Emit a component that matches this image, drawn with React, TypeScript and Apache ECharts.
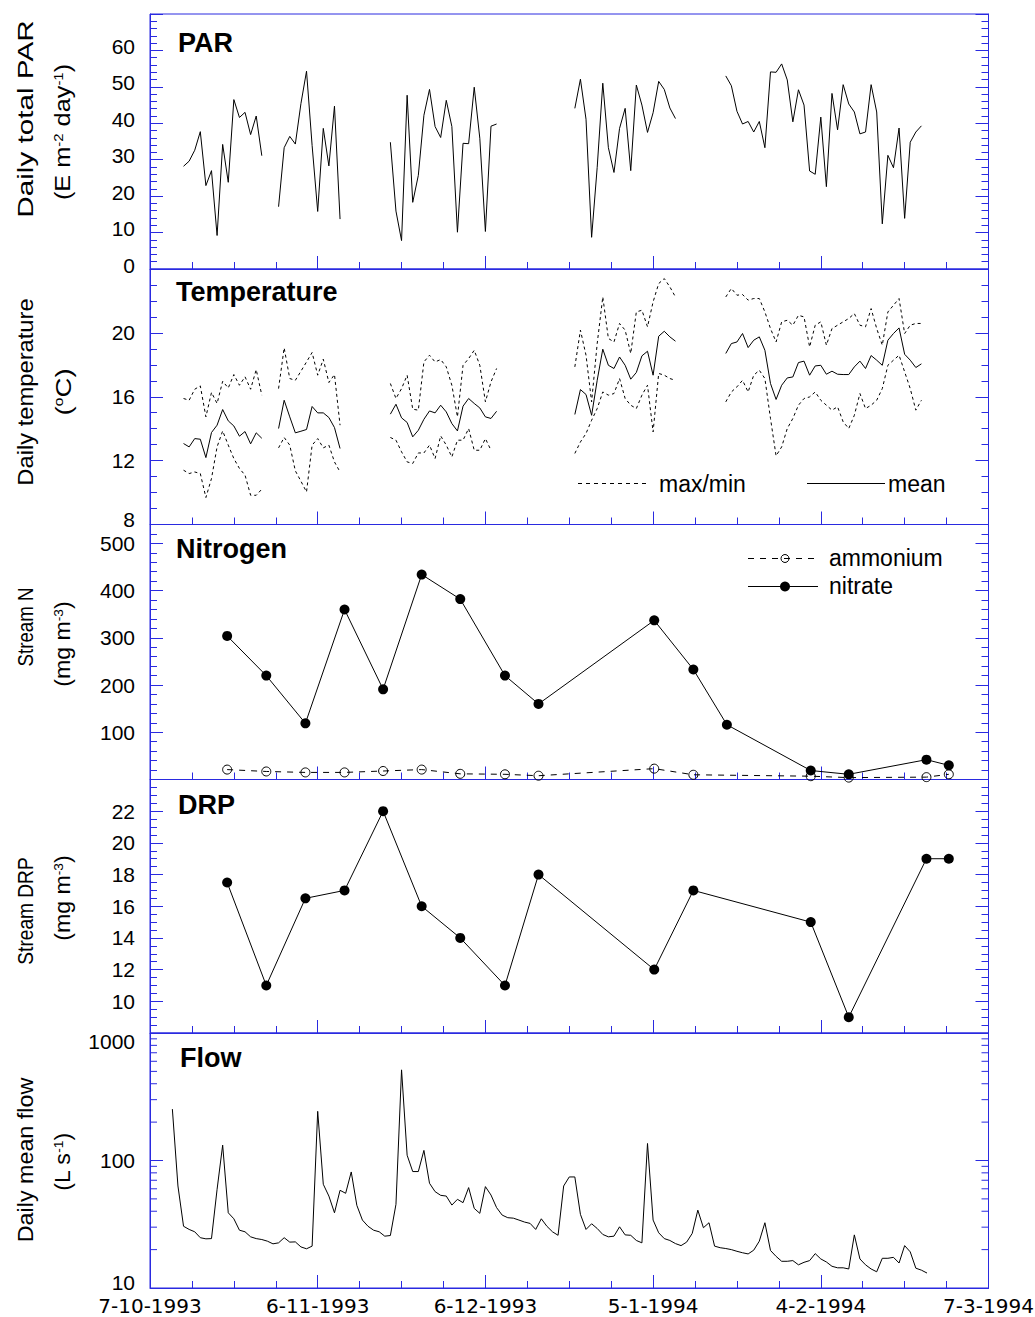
import React, { useEffect, useRef } from "react";
import * as echarts from "echarts";

const BLUE = "#2a2ae0";
const FONT = "'Liberation Sans', Arial, Helvetica, sans-serif";
const XFONT = "'DejaVu Sans', 'Liberation Sans', sans-serif";

// x axis: days since 7-10-1993
const xTickDays = [0, 30, 60, 90, 120, 150];
const xTickLabels = ["7-10-1993", "6-11-1993", "6-12-1993", "5-1-1994", "4-2-1994", "7-3-1994"];

// PAR (E m-2 day-1), daily segments
const parSeg1Start = 6;
const parSeg1 = [28.2, 29.6, 32.6, 37.7, 22.9, 27.0, 9.2, 34.2, 23.8, 46.5, 41.6, 43.0, 36.9, 42.0, 31.1];
const parSeg2Start = 23;
const parSeg2 = [17.1, 33.3, 36.4, 34.3, 45.4, 54.3, 33.9, 15.8, 38.6, 28.3, 44.7, 13.7];
const parSeg3Start = 43;
const parSeg3 = [34.8, 15.9, 7.8, 47.7, 18.3, 25.7, 42.2, 49.3, 39.1, 36.1, 46.3, 39.1, 10.1, 34.5, 34.4, 49.9, 35.9, 10.3, 39.2, 39.8];
const parSeg4Start = 76;
const parSeg4 = [44.1, 52.1, 41.1, 8.7, 27.9, 51.0, 33.3, 26.5, 38.6, 44.1, 27.0, 50.5, 45.0, 37.5, 42.9, 51.5, 49.3, 44.2, 41.3];
const parSeg5Start = 103;
const parSeg5 = [53.0, 50.3, 43.3, 39.8, 40.5, 37.6, 40.5, 33.3, 54.1, 54.0, 56.3, 51.9, 40.4, 49.2, 45.0, 26.9, 26.0, 41.7, 22.6, 48.2, 38.2, 50.6, 45.3, 43.1, 37.1, 37.6, 50.6, 43.1, 12.4, 31.2, 27.8, 38.7, 13.9, 34.8, 37.6, 39.3];

// Temperature (oC): mean / max / min per segment
const tMean1 = [13.07, 12.86, 13.38, 13.34, 12.19, 13.76, 14.22, 15.2, 14.49, 14.17, 13.53, 13.82, 13.05, 13.74, 13.4];
const tMax1 = [15.89, 15.78, 16.47, 16.68, 14.74, 16.27, 15.58, 16.97, 16.55, 17.39, 16.72, 17.25, 16.47, 17.7, 16.1];
const tMin1 = [11.4, 11.19, 11.29, 11.19, 9.69, 10.88, 12.86, 13.86, 12.97, 12.13, 11.51, 11.09, 9.83, 9.83, 10.21];
const tMean2 = [14.01, 15.78, 14.74, 13.74, 13.84, 13.95, 15.39, 14.99, 14.99, 14.7, 14.07, 12.76];
const tMax2 = [16.51, 19.06, 17.14, 17.03, 17.6, 18.18, 18.77, 17.35, 18.35, 16.89, 17.39, 14.22];
const tMin2 = [12.8, 13.45, 12.97, 11.36, 10.71, 10.04, 12.97, 13.38, 12.8, 12.97, 11.92, 11.29];
const tMean3 = [14.91, 15.53, 14.68, 14.39, 13.49, 13.9, 14.59, 15.11, 14.99, 15.47, 15.05, 14.32, 13.86, 15.41, 15.89, 15.58, 15.3, 14.74, 14.64, 15.09];
const tMax3 = [16.83, 15.89, 16.51, 17.35, 15.22, 15.16, 18.18, 18.6, 18.18, 18.33, 17.87, 16.72, 14.74, 17.97, 18.39, 18.91, 17.97, 15.68, 16.93, 17.77];
const tMin3 = [13.45, 13.28, 12.55, 11.92, 11.82, 12.48, 12.48, 12.97, 12.13, 13.55, 12.97, 12.23, 13.28, 13.28, 14.01, 12.65, 12.65, 13.38, 12.65];
const tMean4 = [14.89, 16.45, 16.14, 14.84, 17.03, 18.98, 17.97, 17.77, 18.49, 17.97, 17.1, 17.52, 18.56, 18.85, 17.35, 19.79, 20.1, 19.75, 19.48];
const tMax4 = [17.87, 20.17, 18.6, 15.68, 19.33, 22.25, 19.65, 19.43, 20.59, 20.17, 18.71, 21.31, 21.42, 20.38, 21.94, 23.09, 23.4, 22.88, 22.25];
const tMin4 = [12.45, 13.17, 13.7, 14.53, 15.26, 16.3, 16.1, 16.2, 17.14, 15.89, 15.47, 15.26, 16.1, 16.72, 13.8, 17.46, 17.35, 17.14, 17.03];
const tMean5 = [18.71, 19.33, 19.43, 19.96, 19.08, 19.54, 19.75, 18.91, 16.83, 15.83, 16.72, 17.18, 17.24, 18.14, 18.23, 17.35, 17.93, 17.97, 17.41, 17.6, 17.41, 17.39, 17.39, 17.87, 18.23, 17.77, 18.58, 18.29, 17.97, 19.54, 19.96, 20.31, 18.66, 18.29, 17.83, 18.06];
const tMax5 = [22.25, 22.78, 22.36, 22.4, 22.05, 22.15, 22.15, 21.31, 20.27, 19.43, 20.69, 20.79, 20.48, 21.1, 21.0, 19.12, 20.48, 20.69, 19.23, 20.27, 20.48, 20.69, 20.9, 21.21, 20.48, 20.38, 21.52, 20.27, 19.23, 21.31, 21.73, 22.15, 19.96, 20.48, 20.59, 20.59];
const tMin5 = [15.68, 16.3, 16.62, 17.03, 16.3, 17.35, 17.66, 17.14, 14.64, 12.3, 12.86, 14.01, 14.64, 15.47, 15.89, 15.99, 16.3, 15.78, 15.47, 15.16, 15.37, 14.43, 14.01, 14.84, 16.2, 15.26, 15.47, 15.78, 16.51, 17.97, 18.29, 18.6, 17.56, 16.51, 15.16, 15.78];

// Nitrogen (mg m-3)
const nitrateDays = [13.8, 20.8, 27.8, 34.8, 41.7, 48.6, 55.5, 63.5, 69.5, 90.2, 97.2, 103.2, 118.2, 125.0, 138.9, 142.9];
const nitrate = [304, 220, 119, 360, 191, 434, 382, 220, 160, 337, 233, 116, 19, 11, 42, 30];
const ammoniumDays = [13.8, 20.8, 27.8, 34.8, 41.7, 48.6, 55.5, 63.5, 69.5, 90.2, 97.2, 118.2, 125.0, 138.9, 142.9];
const ammonium = [21, 17, 15, 15, 18, 21, 12, 11, 8, 23, 10, 7, 4, 5, 11];

// DRP (mg m-3)
const drpDays = [13.8, 20.8, 27.8, 34.8, 41.7, 48.6, 55.5, 63.5, 69.5, 90.2, 97.2, 118.2, 125.0, 138.9, 142.9];
const drp = [17.5, 11, 16.5, 17, 22, 16, 14, 11, 18, 12, 17, 15, 9, 19, 19];

// Flow (L s-1), daily from day 4
const flowStart = 4;
const flow = [
  253, 63.1, 30.5, 28.8, 27.6, 24.8, 24.3, 24.4, 59.4, 132,
  38.9, 34.9, 28.4, 27.6, 25.2, 24.4, 24.0, 23.3, 22.2, 22.6,
  24.8, 22.9, 23.0, 21.0, 20.3, 21.3, 243, 65.1, 52.6, 38.9,
  58.4, 55.3, 81.3, 44.5, 34.1, 30.5, 28.4, 27.6, 25.5, 25.8,
  45.3, 514, 110, 81.9, 81.9, 120, 66.3, 57.0, 53.3, 52.6,
  44.7, 49.6, 46.7, 61.3, 42.1, 38.5, 62.4, 53.6, 42.7, 37.3,
  35.6, 35.3, 34.1, 32.9, 32.1, 28.8, 34.9, 30.5, 27.6, 25.9,
  63.1, 74.3, 74.3,
  37.8, 28.8, 31.9, 29.3, 26.3, 25.2, 25.5, 30.2, 26.1, 25.9,
  23.6, 22.6, 136, 34.1, 27.1, 24.4, 23.6, 22.3, 21.5, 22.9,
  26.8, 40.8, 29.7, 32.5, 21.3, 20.7, 20.4, 20.0, 19.4, 18.9,
  18.5, 19.8, 23.3, 32.5, 19.7, 17.7, 16.2, 16.2, 16.4, 15.2,
  15.9, 16.4, 18.6, 16.9, 16.0, 14.8, 14.4, 14.4, 14.1, 26.1,
  16.9, 15.2, 14.1, 13.4, 17.1, 17.1, 17.4, 15.7, 21.5, 19.2,
  14.3, 13.8, 13.1,
];
const flowMinorTicks = [20, 30, 40, 50, 60, 70, 80, 90, 200, 300, 400, 500, 600, 700, 800, 900];

const daily = (start: number, vals: number[]) => vals.map((v, i) => [start + i, v]);
const pairs = (days: number[], vals: number[]) => days.map((d, i) => [d, vals[i]]);

const GRID_LEFT = 150;
const GRID_W = 838.5;
const panels = [
  { top: 14, height: 255 },
  { top: 269, height: 255.5 },
  { top: 524.5, height: 255 },
  { top: 779.5, height: 253.5 },
  { top: 1033, height: 255 },
];

const TICK_LABEL_SIZE = 21;

export default function App() {
  const ref = useRef<HTMLDivElement>(null);
  useEffect(() => {
    if (!ref.current) return;
    const chart = echarts.init(ref.current, null, { renderer: "svg" });

    const grids = panels.map((p) => ({
      left: GRID_LEFT, width: GRID_W, top: p.top, height: p.height,
      containLabel: false, outerBoundsMode: "none",
      show: true, borderColor: BLUE, borderWidth: 1, backgroundColor: "transparent",
    }));

    const xAxes = panels.map((_, i) => ({
      gridIndex: i, type: "value", min: 0, max: 150, interval: 30,
      axisLine: { show: true, lineStyle: { color: BLUE, width: 1 } },
      axisTick: { show: true, inside: true, length: 13, lineStyle: { color: BLUE, width: 1 } },
      minorTick: { show: true, splitNumber: 4, length: 7, lineStyle: { color: BLUE, width: 1 } },
      splitLine: { show: false },
      axisLabel: {
        show: i === 4, color: "#000", fontSize: 20, lineHeight: 20, fontFamily: XFONT, margin: 8,
        showMinLabel: true, showMaxLabel: true, hideOverlap: false,
        formatter: (v: number) => {
          const k = xTickDays.indexOf(Math.round(v));
          return k >= 0 ? xTickLabels[k] : "";
        },
      },
    }));

    const ycfg: any[] = [
      { type: "value", min: 0, max: 70, interval: 10, split: 5, showMin: true, showMax: false, padding: [0, 0, 8, 0] },
      { type: "value", min: 8, max: 24, interval: 4, split: 4, showMin: true, showMax: false,
        formatter: (v: number) => (v === 8 ? "{b|8}" : String(v)) },
      { type: "value", min: 0, max: 540, interval: 100, split: 5, showMin: false, showMax: false },
      { type: "value", min: 8, max: 24, interval: 2, split: 4, showMin: false, showMax: false },
      { type: "log", min: 10, max: 1000, showMin: true, showMax: true,
        formatter: (v: number) => {
          const r = Math.round(v);
          if (r === 1000) return "{t|1000}";
          if (r === 10) return "{u|10}";
          return String(r);
        } },
    ];

    const yAxes: any[] = [];
    ycfg.forEach((c, i) => {
      ["left", "right"].forEach((pos) => {
        const ax: any = {
          gridIndex: i, type: c.type, min: c.min, max: c.max, position: pos,
          axisLine: { show: true, onZero: false, lineStyle: { color: BLUE, width: 1 } },
          axisTick: { show: true, inside: true, length: 13, lineStyle: { color: BLUE, width: 1 } },
          splitLine: { show: false },
          axisLabel: {
            show: pos === "left", color: "#000", fontSize: TICK_LABEL_SIZE, fontFamily: FONT, margin: 15,
            showMinLabel: c.showMin, showMaxLabel: c.showMax,
            padding: c.padding || 0,
            rich: {
              b: { fontSize: TICK_LABEL_SIZE, fontFamily: FONT, color: "#000", padding: [0, 0, 10, 0] },
              t: { fontSize: TICK_LABEL_SIZE, fontFamily: FONT, color: "#000", padding: [16, 0, 0, 0] },
              u: { fontSize: TICK_LABEL_SIZE, lineHeight: 16, fontFamily: FONT, color: "#000", padding: [0, 0, 12, 0] },
            },
          },
        };
        if (c.formatter) ax.axisLabel.formatter = c.formatter;
        if (c.type === "log") {
          ax.logBase = 10;
          ax.minorTick = { show: false };
        } else {
          ax.interval = c.interval;
          ax.minorTick = { show: true, splitNumber: c.split, length: 7, lineStyle: { color: BLUE, width: 1 } };
        }
        yAxes.push(ax);
      });
    });

    const series: any[] = [];
    const plain = (xi: number, data: any[], dashed?: number[]) => ({
      type: "line", xAxisIndex: xi, yAxisIndex: xi * 2, data, symbol: "none", showSymbol: false,
      lineStyle: { color: "#000", width: 1, type: dashed ? dashed : "solid" },
      silent: true, z: 3,
    });

    [[parSeg1Start, parSeg1], [parSeg2Start, parSeg2], [parSeg3Start, parSeg3], [parSeg4Start, parSeg4], [parSeg5Start, parSeg5]]
      .forEach(([s, v]: any) => series.push(plain(0, daily(s, v))));

    const tSegs: any[] = [
      [parSeg1Start, tMean1, tMax1, tMin1],
      [parSeg2Start, tMean2, tMax2, tMin2],
      [parSeg3Start, tMean3, tMax3, tMin3],
      [parSeg4Start, tMean4, tMax4, tMin4],
      [parSeg5Start, tMean5, tMax5, tMin5],
    ];
    tSegs.forEach(([s, mean, mx, mn]) => {
      series.push(plain(1, daily(s, mean)));
      series.push(plain(1, daily(s, mx), [3, 3]));
      series.push(plain(1, daily(s, mn), [3, 3]));
    });

    series.push({
      type: "line", name: "ammonium", xAxisIndex: 2, yAxisIndex: 4, data: pairs(ammoniumDays, ammonium),
      symbol: "circle", symbolSize: 9, showSymbol: true,
      lineStyle: { color: "#000", width: 1, type: [6, 6] },
      itemStyle: { color: "rgba(0,0,0,0)", borderColor: "#000", borderWidth: 1 },
      silent: true, z: 3,
    });
    series.push({
      type: "line", name: "nitrate", xAxisIndex: 2, yAxisIndex: 4, data: pairs(nitrateDays, nitrate),
      symbol: "circle", symbolSize: 10, showSymbol: true,
      lineStyle: { color: "#000", width: 1 },
      itemStyle: { color: "#000", borderColor: "#000", borderWidth: 0 },
      silent: true, z: 4,
    });
    series.push({
      type: "line", name: "DRP", xAxisIndex: 3, yAxisIndex: 6, data: pairs(drpDays, drp),
      symbol: "circle", symbolSize: 10, showSymbol: true,
      lineStyle: { color: "#000", width: 1 },
      itemStyle: { color: "#000", borderWidth: 0 },
      silent: true, z: 4,
    });
    series.push(plain(4, daily(flowStart, flow)));
    series[series.length - 1].yAxisIndex = 8;

    series.push({
      type: "custom", xAxisIndex: 4, yAxisIndex: 8, silent: true, z: 5, clip: false,
      data: flowMinorTicks.map((v) => [0, v]),
      renderItem: (params: any, api: any) => {
        const v = api.value(1);
        const pL = api.coord([0, v]);
        const pR = api.coord([150, v]);
        return {
          type: "group",
          children: [
            { type: "line", shape: { x1: pL[0], y1: pL[1], x2: pL[0] + 7, y2: pL[1] }, style: { stroke: BLUE, lineWidth: 1 } },
            { type: "line", shape: { x1: pR[0] - 7, y1: pR[1], x2: pR[0], y2: pR[1] }, style: { stroke: BLUE, lineWidth: 1 } },
          ],
        };
      },
    });

    const title = (x: number, y: number, text: string) => ({
      type: "text", x, y, silent: true,
      style: { text, fontSize: 27, fontWeight: "bold", fontFamily: FONT, fill: "#000", align: "left", verticalAlign: "middle" },
    });
    const vName = (x: number, y: number, text: string, scale: number) => ({
      type: "text", x, y, rotation: Math.PI / 2, scaleX: scale, scaleY: 1, silent: true,
      style: {
        text, fontSize: 22, fontFamily: FONT, fill: "#000", align: "center", verticalAlign: "middle",
        rich: { s: { fontSize: 13, fontFamily: FONT, fill: "#000", verticalAlign: "top", lineHeight: 13 } },
      },
    });
    const legText = (x: number, y: number, text: string) => ({
      type: "text", x, y, silent: true,
      style: { text, fontSize: 23, fontFamily: FONT, fill: "#000", align: "left", verticalAlign: "middle" },
    });
    const legLine = (x1: number, x2: number, y: number, dash?: number[]) => ({
      type: "line", silent: true, shape: { x1, y1: y, x2, y2: y },
      style: { stroke: "#000", lineWidth: 1, lineDash: dash || null },
    });

    const graphic = [
      title(178, 43, "PAR"),
      title(176, 292, "Temperature"),
      title(176, 549, "Nitrogen"),
      title(178, 805, "DRP"),
      title(180, 1058, "Flow"),
      vName(25, 119, "Daily total PAR", 1.35),
      vName(63, 132, "(E m{s|-2} day{s|-1})", 1.15),
      vName(25, 392, "Daily temperature", 1.08),
      vName(63, 392, "({s|o}C)", 1.25),
      vName(25, 627, "Stream N", 0.85),
      vName(63, 644, "(mg m{s|-3})", 1.05),
      vName(25, 911, "Stream DRP", 0.87),
      vName(63, 898, "(mg m{s|-3})", 1.05),
      vName(25, 1160, "Daily mean flow", 1.06),
      vName(63, 1162, "(L s{s|-1})", 1.05),
      legLine(578, 648, 483.5, [4, 4]),
      legText(659, 484, "max/min"),
      legLine(807, 885, 483.5),
      legText(888, 484, "mean"),
      legLine(748, 818, 558.5, [6, 6]),
      { type: "circle", silent: true, shape: { cx: 785, cy: 558.5, r: 4 }, style: { fill: "rgba(0,0,0,0)", stroke: "#000", lineWidth: 1 } },
      legText(829, 558, "ammonium"),
      legLine(748, 818, 586.5),
      { type: "circle", silent: true, shape: { cx: 785, cy: 586.5, r: 5 }, style: { fill: "#000" } },
      legText(829, 586, "nitrate"),
    ];

    chart.setOption({
      animation: false,
      backgroundColor: "#fff",
      grid: grids,
      xAxis: xAxes,
      yAxis: yAxes,
      series,
      graphic,
    });
    return () => chart.dispose();
  }, []);

  return (
    <div
      ref={ref}
      style={{ position: "absolute", left: 0, top: 0, width: 1035, height: 1317, background: "#fff" }}
    />
  );
}
